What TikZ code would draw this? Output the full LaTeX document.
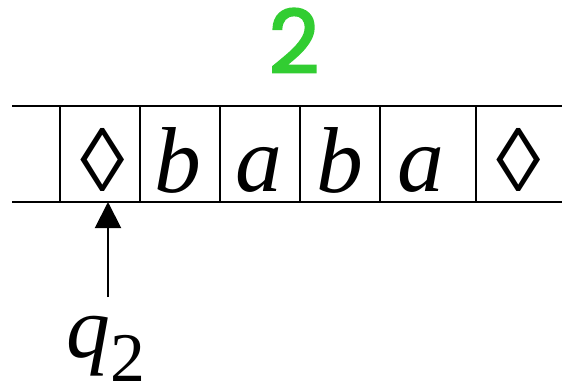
\documentclass[tikz,border=0pt]{standalone}
\usepackage{fontspec}
\setmainfont{Liberation Serif}
\newfontfamily\handfont[FakeBold=2.5]{Poppins}
\newfontfamily\blankfont{Liberation Sans}
\usetikzlibrary{arrows.meta}
\usepackage{xcolor}
\definecolor{stepgreen}{RGB}{50,205,50}

\begin{document}
\begin{tikzpicture}[
    x=1bp, y=-1bp,
    tapeline/.style={line width=2bp, draw=black},
    sym/.style={inner sep=0pt, anchor=base, font=\fontsize{94}{94}\selectfont\itshape},
    blank/.style={inner sep=0pt, anchor=base, font=\blankfont\fontsize{90}{90}\selectfont},
    count/.style={inner sep=0pt, anchor=base, text=stepgreen, font=\handfont\fontsize{88}{88}\selectfont},
    state/.style={inner sep=0pt, anchor=base, font=\fontsize{88}{88}\selectfont},
    arr/.style={-{Triangle[length=26bp, width=26bp]}, line width=2bp, draw=black}
]
    \useasboundingbox (0,0) rectangle (562,388);

    \coordinate (tl) at (12,106);
    \coordinate (tr) at (562,106);
    \coordinate (bl) at (12,202);
    \coordinate (br) at (562,202);

    \draw[tapeline] (tl) -- (tr);
    \draw[tapeline] (bl) -- (br);

    \draw[tapeline] (60,106) -- (60,202);
    \draw[tapeline] (140,106) -- (140,202);
    \draw[tapeline] (220,106) -- (220,202);
    \draw[tapeline] (300,106) -- (300,202);
    \draw[tapeline] (380,106) -- (380,202);
    \draw[tapeline] (476,106) -- (476,202);

    \node[blank] (s1) at (103,191) {◊};
    \node[sym] (s2) at (178,192) {b};
    \node[sym] (s3) at (259,191) {a};
    \node[sym] (s4) at (340,192) {b};
    \node[sym] (s5) at (421,191) {a};
    \node[blank] (s6) at (519,191) {◊};

    \node[count] (steps) at (294,73) {2};

    \node[state] (q) at (106,357) {\textit{q}\raisebox{-24bp}{\fontsize{70}{70}\selectfont 2}};

    \coordinate (head) at (108,297);
    \draw[arr] (head) -- (head |- br);
\end{tikzpicture}
\end{document}
